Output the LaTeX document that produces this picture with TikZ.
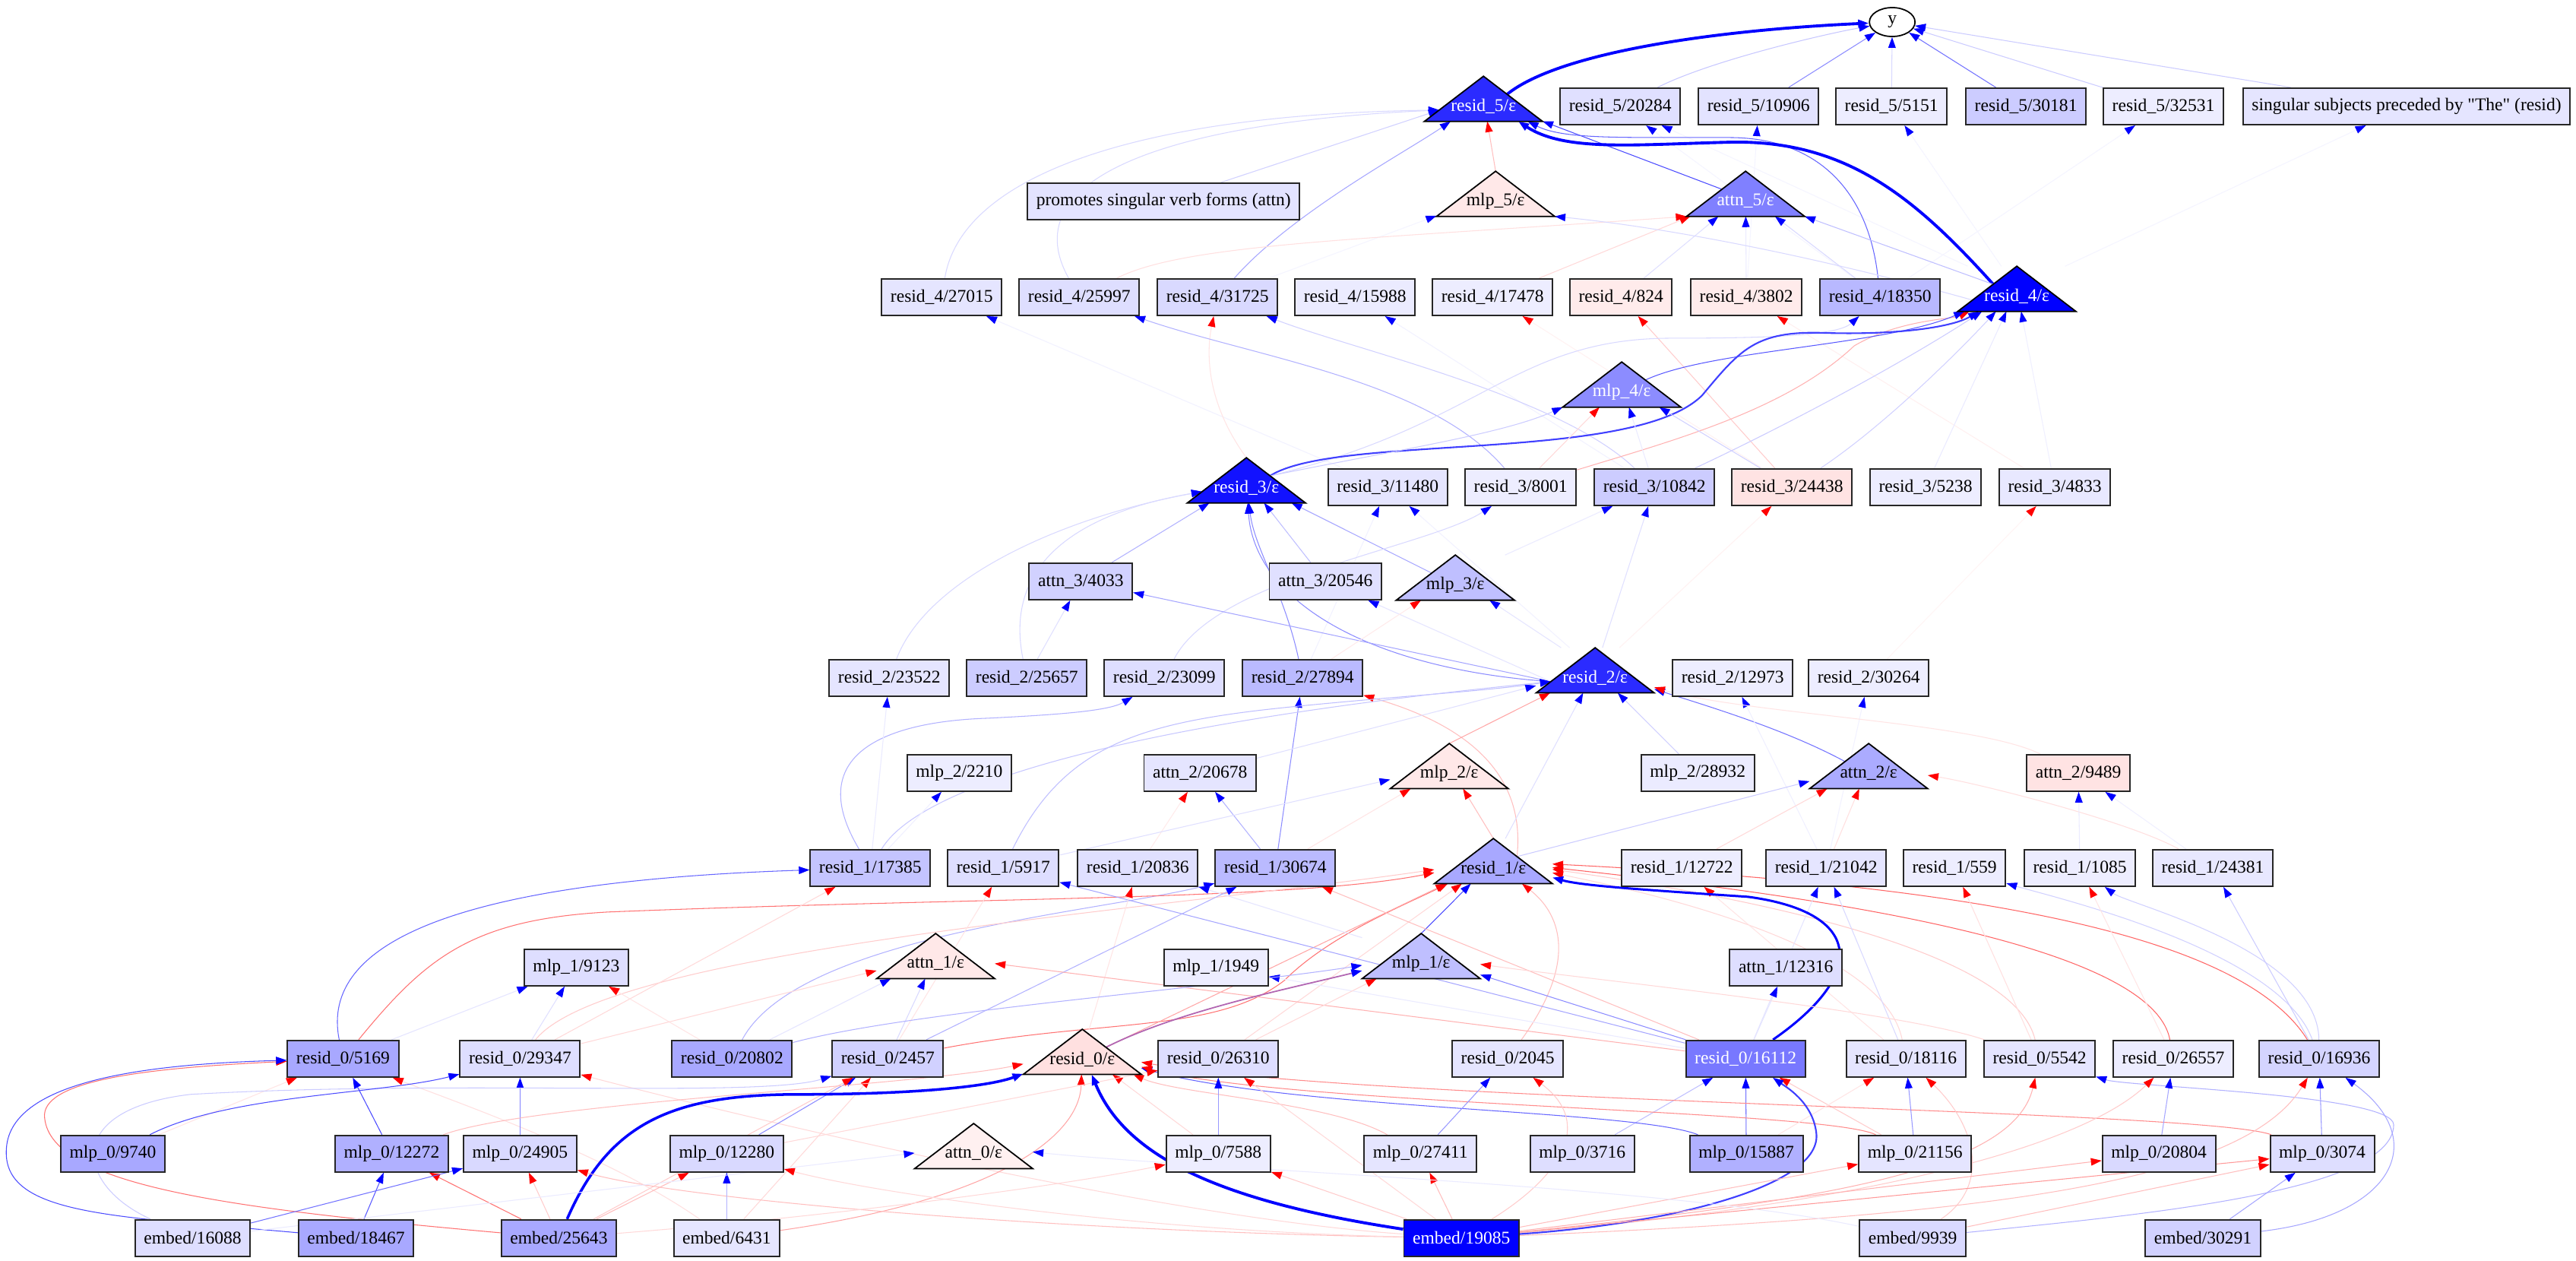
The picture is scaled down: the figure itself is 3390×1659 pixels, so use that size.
\documentclass[tikz,border=0pt]{standalone}
\usepackage{fontspec}
\setmainfont{Liberation Serif}
\usetikzlibrary{arrows.meta,shapes.geometric,calc}
\pgfdeclarelayer{bglayer}
\pgfdeclarelayer{edgelayer}
\pgfsetlayers{bglayer,edgelayer,main}
\tikzset{
  gbox/.style={draw=black!85, line width=0.55pt, rectangle, minimum height=0.48cm, inner xsep=3.3pt, inner ysep=0pt, font=\fontsize{6.7}{8}\selectfont},
  tribox/.style={rectangle, minimum width=1.54cm, minimum height=0.58cm, inner sep=0pt},
  trilabel/.style={inner sep=0pt, font=\fontsize{6.7}{8}\selectfont},
  eb/.style={draw=blue!#1, line width=0.3pt, -{Triangle[length=4pt,width=2.8pt,color=blue]}},
  er/.style={draw=red!#1, line width=0.3pt, -{Triangle[length=4pt,width=2.8pt,color=red]}},
  thickline/.style={line width=1.1pt},
  medline/.style={line width=0.6pt},
}
\newcommand{\mytri}[6]{%
  \node[tribox] (#1) at (#2,#3) {};
  \filldraw[fill=#4, draw=black, line width=0.5pt] (#1.south west) -- (#1.north) -- (#1.south east) -- cycle;
  \node[trilabel, text=#5] (#1-t) at ([yshift=0.2cm]#1.south) {#6};
  \coordinate (#1-l) at ($(#1.south west)!0.25!(#1.north)$);
  \coordinate (#1-r) at ($(#1.south east)!0.25!(#1.north)$);
  \coordinate (#1-al) at ($(#1.south west)!0.6!(#1.north)$);
  \coordinate (#1-ar) at ($(#1.south east)!0.6!(#1.north)$);
  \coordinate (#1-top) at (#1.north);
}
\begin{document}
\begin{tikzpicture}[x=0.01cm, y=-0.01cm]
\begin{pgfonlayer}{bglayer}
\path[use as bounding box, fill=white] (0,0) rectangle (3390,1659);
\end{pgfonlayer}

% ---------- nodes ----------
\node[draw=black, ellipse, minimum width=0.6cm, minimum height=0.38cm, inner sep=0pt, line width=0.5pt, fill=white, font=\fontsize{6.7}{8}\selectfont] (Y) at (2490,29) {y};

\mytri{R5e}{1952}{130}{blue!83}{white}{resid\_5/ε}
\node[gbox,fill=blue!12] (R5n20284) at (2132,140) {resid\_5/20284};
\node[gbox,fill=blue!11] (R5n10906) at (2314,140) {resid\_5/10906};
\node[gbox,fill=blue!7] (R5n5151) at (2489,140) {resid\_5/5151};
\node[gbox,fill=blue!20] (R5n30181) at (2666,140) {resid\_5/30181};
\node[gbox,fill=blue!7] (R5n32531) at (2847,140) {resid\_5/32531};
\node[gbox,fill=blue!10] (Sing) at (3167,140) {singular subjects preceded by \textquotedbl The\textquotedbl{} (resid)};

\node[gbox,fill=blue!11] (Prom) at (1531,265) {promotes singular verb forms (attn)};
\mytri{M5e}{1968}{255}{red!9}{black}{mlp\_5/ε}
\mytri{A5e}{2297}{255}{blue!50}{white}{attn\_5/ε}

\node[gbox,fill=blue!10] (R4n27015) at (1239,391) {resid\_4/27015};
\node[gbox,fill=blue!13] (R4n25997) at (1420,391) {resid\_4/25997};
\node[gbox,fill=blue!15] (R4n31725) at (1602,391) {resid\_4/31725};
\node[gbox,fill=blue!8] (R4n15988) at (1783,391) {resid\_4/15988};
\node[gbox,fill=blue!7] (R4n17478) at (1964,391) {resid\_4/17478};
\node[gbox,fill=red!8] (R4n824) at (2133,391) {resid\_4/824};
\node[gbox,fill=red!8] (R4n3802) at (2298,391) {resid\_4/3802};
\node[gbox,fill=blue!28] (R4n18350) at (2474,391) {resid\_4/18350};
\mytri{R4e}{2654}{380}{blue}{white}{resid\_4/ε}

\mytri{M4e}{2134}{506}{blue!45}{white}{mlp\_4/ε}

\mytri{R3e}{1640}{632}{blue!93}{white}{resid\_3/ε}
\node[gbox,fill=blue!10] (R3n11480) at (1826,641) {resid\_3/11480};
\node[gbox,fill=blue!7] (R3n8001) at (2001,641) {resid\_3/8001};
\node[gbox,fill=blue!20] (R3n10842) at (2177,641) {resid\_3/10842};
\node[gbox,fill=red!11] (R3n24438) at (2358,641) {resid\_3/24438};
\node[gbox,fill=blue!7] (R3n5238) at (2534,641) {resid\_3/5238};
\node[gbox,fill=blue!9] (R3n4833) at (2704,641) {resid\_3/4833};

\node[gbox,fill=blue!18] (A3n4033) at (1422,765) {attn\_3/4033};
\node[gbox,fill=blue!12] (A3n20546) at (1744,765) {attn\_3/20546};
\mytri{M3e}{1915}{760}{blue!25}{black}{mlp\_3/ε}

\node[gbox,fill=blue!10] (R2n23522) at (1170,892) {resid\_2/23522};
\node[gbox,fill=blue!20] (R2n25657) at (1351,892) {resid\_2/25657};
\node[gbox,fill=blue!13] (R2n23099) at (1532,892) {resid\_2/23099};
\node[gbox,fill=blue!27] (R2n27894) at (1714,892) {resid\_2/27894};
\mytri{R2e}{2099}{882}{blue!83}{white}{resid\_2/ε}
\node[gbox,fill=blue!7] (R2n12973) at (2280,892) {resid\_2/12973};
\node[gbox,fill=blue!7] (R2n30264) at (2459,892) {resid\_2/30264};

\node[gbox,fill=blue!7] (M2n2210) at (1262,1017) {mlp\_2/2210};
\node[gbox,fill=blue!10] (A2n20678) at (1579,1017) {attn\_2/20678};
\mytri{M2e}{1907}{1008}{red!9}{black}{mlp\_2/ε}
\node[gbox,fill=blue!8] (M2n28932) at (2234,1017) {mlp\_2/28932};
\mytri{A2e}{2459}{1008}{blue!33}{black}{attn\_2/ε}
\node[gbox,fill=red!11] (A2n9489) at (2735,1017) {attn\_2/9489};

\node[gbox,fill=blue!23] (R1n17385) at (1145,1142) {resid\_1/17385};
\node[gbox,fill=blue!13] (R1n5917) at (1320,1142) {resid\_1/5917};
\node[gbox,fill=blue!12] (R1n20836) at (1497,1142) {resid\_1/20836};
\node[gbox,fill=blue!27] (R1n30674) at (1678,1142) {resid\_1/30674};
\mytri{R1e}{1965}{1133}{blue!34}{black}{resid\_1/ε}
\node[gbox,fill=blue!7] (R1n12722) at (2213,1142) {resid\_1/12722};
\node[gbox,fill=blue!10] (R1n21042) at (2403,1142) {resid\_1/21042};
\node[gbox,fill=blue!7] (R1n559) at (2572,1142) {resid\_1/559};
\node[gbox,fill=blue!7] (R1n1085) at (2737,1142) {resid\_1/1085};
\node[gbox,fill=blue!9] (R1n24381) at (2912,1142) {resid\_1/24381};

\node[gbox,fill=blue!13] (M1n9123) at (758,1273) {mlp\_1/9123};
\mytri{A1e}{1231}{1258}{red!9}{black}{attn\_1/ε}
\node[gbox,fill=blue!7] (M1n1949) at (1600,1273) {mlp\_1/1949};
\mytri{M1e}{1870}{1258}{blue!25}{black}{mlp\_1/ε}
\node[gbox,fill=blue!13] (A1n12316) at (2350,1273) {attn\_1/12316};

\node[gbox,fill=blue!34] (R0n5169) at (451,1393) {resid\_0/5169};
\node[gbox,fill=blue!13] (R0n29347) at (684,1393) {resid\_0/29347};
\node[gbox,fill=blue!34] (R0n20802) at (963,1393) {resid\_0/20802};
\node[gbox,fill=blue!18] (R0n2457) at (1168,1393) {resid\_0/2457};
\mytri{R0e}{1424}{1384}{red!12}{black}{resid\_0/ε}
\node[gbox,fill=blue!13] (R0n26310) at (1603,1393) {resid\_0/26310};
\node[gbox,fill=blue!10] (R0n2045) at (1984,1393) {resid\_0/2045};
\node[gbox,fill=blue!53,text=white] (R0n16112) at (2297,1393) {resid\_0/16112};
\node[gbox,fill=blue!10] (R0n18116) at (2508,1393) {resid\_0/18116};
\node[gbox,fill=blue!10] (R0n5542) at (2684,1393) {resid\_0/5542};
\node[gbox,fill=blue!7] (R0n26557) at (2860,1393) {resid\_0/26557};
\node[gbox,fill=blue!17] (R0n16936) at (3052,1393) {resid\_0/16936};

\node[gbox,fill=blue!34] (M0n9740) at (148,1518) {mlp\_0/9740};
\node[gbox,fill=blue!31] (M0n12272) at (515,1518) {mlp\_0/12272};
\node[gbox,fill=blue!15] (M0n24905) at (684,1518) {mlp\_0/24905};
\node[gbox,fill=blue!15] (M0n12280) at (956,1518) {mlp\_0/12280};
\mytri{A0e}{1281}{1508}{red!6}{black}{attn\_0/ε}
\node[gbox,fill=blue!7] (M0n7588) at (1603,1518) {mlp\_0/7588};
\node[gbox,fill=blue!10] (M0n27411) at (1869,1518) {mlp\_0/27411};
\node[gbox,fill=blue!13] (M0n3716) at (2082,1518) {mlp\_0/3716};
\node[gbox,fill=blue!31] (M0n15887) at (2298,1518) {mlp\_0/15887};
\node[gbox,fill=blue!10] (M0n21156) at (2520,1518) {mlp\_0/21156};
\node[gbox,fill=blue!15] (M0n20804) at (2841,1518) {mlp\_0/20804};
\node[gbox,fill=blue!13] (M0n3074) at (3056,1518) {mlp\_0/3074};

\node[gbox,fill=blue!13] (E16088) at (253,1629) {embed/16088};
\node[gbox,fill=blue!34] (E18467) at (468,1629) {embed/18467};
\node[gbox,fill=blue!34] (E25643) at (735,1629) {embed/25643};
\node[gbox,fill=blue!10] (E6431) at (956,1629) {embed/6431};
\node[gbox,fill=blue,text=white] (E19085) at (1923,1629) {embed/19085};
\node[gbox,fill=blue!15] (E9939) at (2517,1629) {embed/9939};
\node[gbox,fill=blue!18] (E30291) at (2899,1629) {embed/30291};

% ---------- edges ----------
\begin{pgfonlayer}{edgelayer}
\draw[eb=4] (R4n18350) -- (R5n20284);
\draw[eb=4] (R4e) -- (R5n20284);
\draw[eb=4] (R4n3802) -- (R5n10906);
\draw[eb=4] (R4e) -- (R5n5151);
\draw[eb=4] (R4n18350) -- (R5n32531);
\draw[eb=4] (R4e) -- (Sing);
\draw[eb=4] (R4n31725) -- (M5e);
\draw[eb=5] (R3n11480) -- (R4n27015);
\draw[eb=5] (R3n10842) -- (R4n15988);
\draw[er=5] (R3n24438) -- (R4n17478);
\draw[er=6] (R3n4833) -- (R4n3802);
\draw[eb=5] (R2n27894) -- (R3n11480);
\draw[eb=5] (R2e) -- (R3n11480);
\draw[er=5] (R2e) -- (R3n24438);
\draw[er=4] (R2n30264) -- (R3n4833);

\draw[eb=22] (R5n20284) .. controls (2250,80) and (2400,45) .. (Y);
\draw[eb=45] (R5n10906) -- (Y);
\draw[eb=15] (R5n5151) -- (Y);
\draw[eb=55] (R5n30181) -- (Y);
\draw[eb=20] (R5n32531) -- (Y);
\draw[eb=20] (Sing) -- (Y);
\draw[eb=100, thickline] (R5e-ar) .. controls (2050,70) and (2250,40) .. (Y);

\draw[eb=15] (R4n27015) .. controls (1265,230) and (1500,150) .. (R5e-l);
\draw[eb=15] (R4n25997) .. controls (1330,230) and (1550,160) .. (R5e-l);
\draw[eb=18] (Prom) -- (R5e-l);
\draw[eb=35] (R4n31725) .. controls (1700,280) and (1850,200) .. (R5e);
\draw[er=25] (M5e-top) -- (R5e);
\draw[eb=70] (A5e-al) -- (R5e);
\draw[eb=60] (R4n18350) .. controls (2460,260) and (2400,183) .. (2280,181) .. controls (2150,180) and (2060,185) .. (R5e);
\draw[eb=100, thickline] (R4e-al) .. controls (2520,260) and (2430,185) .. (2280,187) .. controls (2150,190) and (2060,200) .. (R5e);

\draw[er=12] (R4n25997) .. controls (1560,320) and (1800,315) .. (A5e.south west);
\draw[er=15] (R4n17478) -- (A5e);
\draw[eb=12] (R4n824) -- (A5e);
\draw[eb=8] (R4n3802) -- (A5e);
\draw[eb=15] (R4n18350) -- (A5e);
\draw[eb=25] (R4e-al) -- (A5e.south east);
\draw[eb=15] (R4e-l) .. controls (2400,340) and (2200,300) .. (M5e.south east);

\draw[er=10] (R3e-top) .. controls (1580,520) and (1590,450) .. (R4n31725);
\draw[eb=30] (R3n8001) .. controls (1880,500) and (1650,470) .. (R4n25997);
\draw[eb=18] (R3n10842) .. controls (2050,520) and (1780,460) .. (R4n31725);
\draw[er=20] (R3n24438) -- (R4n824);
\draw[eb=15] (R3e-ar) .. controls (1950,560) and (1990,445) .. (2200,445) .. controls (2350,445) and (2420,440) .. (R4n18350);
\draw[er=30] (R3n8001) .. controls (2200,580) and (2350,540) .. (2440,455) .. controls (2500,420) and (2570,420) .. (R4e);
\draw[eb=20] (R3n10842) .. controls (2350,560) and (2500,480) .. (R4e);
\draw[eb=18] (R3n24438) .. controls (2480,560) and (2580,460) .. (R4e);
\draw[eb=8] (R3n5238) -- (R4e);
\draw[eb=6] (R3n4833) -- (R4e);
\draw[eb=65] (M4e-ar) .. controls (2250,460) and (2480,455) .. (R4e);
\draw[eb=75, medline] (R3e-ar) .. controls (1760,570) and (2150,610) .. (2240,520) .. controls (2290,460) and (2310,435) .. (2400,438) .. controls (2500,441) and (2570,430) .. (R4e);
\draw[eb=20] (R3e-ar) .. controls (1850,590) and (1980,570) .. (M4e.south west);
\draw[er=15] (R3n8001) -- (M4e);
\draw[eb=18] (R3n24438) -- (M4e);
\draw[eb=8] (R3n10842) -- (M4e);

\draw[eb=15] (R2n23522) .. controls (1220,760) and (1400,680) .. (R3e-l);
\draw[eb=15] (R2n25657) .. controls (1320,740) and (1420,675) .. (R3e-l);
\draw[eb=30] (A3n4033) -- (R3e);
\draw[eb=45] (R2n27894) .. controls (1690,780) and (1650,720) .. (R3e);
\draw[eb=45] (R2e-l) .. controls (1800,880) and (1650,790) .. (R3e);
\draw[eb=25] (A3n20546) -- (R3e);
\draw[eb=35] (M3e-al) -- (R3e);
\draw[eb=15] (R2n23099) .. controls (1600,760) and (1880,720) .. (R3n8001);
\draw[eb=12] (R2e) -- (R3n10842);
\draw[eb=8] (M3e) -- (R3n10842);
\draw[eb=35] (R2e-l) -- (A3n4033);
\draw[eb=12] (R2n25657) -- (A3n4033);
\draw[eb=10] (R2e-l) -- (A3n20546);
\draw[eb=10] (R2e) -- (M3e);
\draw[er=8] (R2n27894) -- (M3e);

\draw[eb=30] (R1n17385) .. controls (1060,1000) and (1150,950) .. (1300,945) .. controls (1400,940) and (1460,935) .. (R2n23099);
\draw[eb=45] (R1n30674) -- (R2n27894);
\draw[er=25] (R1e-ar) .. controls (2010,1000) and (1900,945) .. (R2n27894);
\draw[eb=25] (R1n5917) .. controls (1400,980) and (1500,950) .. (1700,930) .. controls (1850,915) and (1950,910) .. (R2e-l);
\draw[eb=22] (R1n17385) .. controls (1200,1050) and (1400,960) .. (R2e-l);
\draw[er=35] (M2e-top) -- (R2e);
\draw[eb=55] (A2e-al) .. controls (2350,960) and (2250,930) .. (R2e);
\draw[eb=18] (M2n28932) -- (R2e);
\draw[eb=12] (A2n20678) -- (R2e);
\draw[eb=12] (R1e) -- (R2e);
\draw[eb=8] (R1n17385) -- (R2n23522);
\draw[eb=6] (R1n21042) -- (R2n12973);
\draw[eb=5] (R1n21042) -- (R2n30264);
\draw[er=10] (A2n9489) .. controls (2600,950) and (2300,940) .. (R2e);

\draw[eb=6] (R1n17385) -- (M2n2210);
\draw[eb=30] (R1n30674) -- (A2n20678);
\draw[er=8] (R1n20836) -- (A2n20678);
\draw[er=25] (R1e-top) -- (M2e);
\draw[eb=12] (R1n5917) -- (M2e);
\draw[er=10] (R1n30674) -- (M2e);
\draw[er=15] (R1n12722) -- (A2e);
\draw[er=12] (R1n21042) -- (A2e);
\draw[er=12] (R1n24381) .. controls (2800,1080) and (2600,1030) .. (A2e);
\draw[eb=20] (R1e-ar) -- (A2e);
\draw[eb=8] (R1n1085) -- (A2n9489);
\draw[eb=6] (R1n24381) -- (A2n9489);

\draw[eb=60] (R0n5169) .. controls (420,1240) and (600,1160) .. (R1n17385);
\draw[eb=30] (R0n20802) .. controls (1050,1230) and (1450,1200) .. (R1n30674);
\draw[eb=70] (M1e-top) -- (R1e);
\draw[er=55] (R0n5169) .. controls (560,1260) and (620,1210) .. (800,1200) .. controls (1300,1180) and (1700,1185) .. (R1e);
\draw[er=55] (R0n2457) .. controls (1450,1340) and (1600,1360) .. (1690,1290) .. controls (1750,1230) and (1850,1190) .. (R1e);
\draw[er=20] (R0n29347) .. controls (800,1250) and (1500,1200) .. (R1e);
\draw[er=25] (R0n2045) .. controls (2080,1260) and (2050,1200) .. (R1e);
\draw[er=60] (R0n26557) .. controls (2830,1230) and (2300,1170) .. (R1e);
\draw[er=60] (R0n16936) .. controls (2950,1230) and (2600,1165) .. (R1e);
\draw[er=15] (R0n18116) .. controls (2480,1250) and (2200,1180) .. (R1e);
\draw[er=20] (R0n5542) .. controls (2650,1250) and (2300,1180) .. (R1e);
\draw[er=35] (R0e-ar) -- (R1e);
\draw[er=15] (R0n26310) -- (R1e);
\draw[er=15] (R0n29347) -- (R1n17385);
\draw[eb=35] (R0n16112) -- (R1n5917);
\draw[er=10] (R0n2457) -- (R1n5917);
\draw[eb=10] (M1e) -- (R1n20836);
\draw[er=10] (R0e) -- (R1n20836);
\draw[er=25] (R0n16112) -- (R1n30674);
\draw[eb=30] (R0n2457) -- (R1n30674);
\draw[er=10] (R0n18116) -- (R1n12722);
\draw[eb=15] (R0n18116) -- (R1n21042);
\draw[eb=10] (R0n16112) -- (R1n21042);
\draw[er=12] (R0n5542) -- (R1n559);
\draw[eb=18] (R0n16936) .. controls (3000,1250) and (2700,1180) .. (R1n559);
\draw[er=10] (R0n26557) -- (R1n1085);
\draw[eb=18] (R0n16936) .. controls (3050,1250) and (2800,1190) .. (R1n1085);
\draw[eb=20] (R0n16936) -- (R1n24381);
\draw[eb=100, line width=0.85pt] (R0n16112) .. controls (2460,1280) and (2450,1200) .. (2300,1180) .. controls (2150,1170) and (2080,1165) .. (R1e);

\draw[eb=12] (R0n29347) -- (M1n9123);
\draw[eb=10] (R0n5169) -- (M1n9123);
\draw[er=10] (R0n20802) -- (M1n9123);
\draw[er=15] (R0n29347) -- (A1e);
\draw[eb=15] (R0n2457) -- (A1e);
\draw[eb=10] (R0n20802) -- (A1e);
\draw[er=30] (R0n16112) -- (A1e);
\draw[eb=8] (R0n16112) -- (M1n1949);
\draw[er=15] (R0n26310) -- (M1e);
\draw[eb=45] (R0n16112) -- (M1e);
\draw[eb=30] (R0n20802) .. controls (1200,1330) and (1600,1300) .. (M1e);
\draw[er=15] (R0n5542) .. controls (2500,1330) and (2100,1290) .. (M1e);
\draw[eb=10] (R0n16112) -- (A1n12316);
\draw[draw=violet!60, line width=0.5pt, -{Triangle[length=4pt,width=2.8pt,color=blue]}] (R0e-ar) .. controls (1550,1330) and (1700,1300) .. (M1e);

\draw[er=10] (M0n9740) -- (R0n5169);
\draw[er=12] (E6431) .. controls (800,1520) and (600,1450) .. (R0n5169);
\draw[eb=50] (M0n24905) -- (R0n29347);
\draw[er=15] (E19085) .. controls (1500,1600) and (900,1450) .. (R0n29347);
\draw[eb=55] (M0n15887) -- (R0n16112);
\draw[eb=25] (M0n3716) -- (R0n16112);
\draw[er=20] (M0n21156) -- (R0n16112);
\draw[eb=45] (M0n12280) -- (R0n2457);
\draw[eb=20] (E16088) .. controls (100,1560) and (80,1460) .. (250,1440) .. controls (600,1420) and (1000,1445) .. (R0n2457);
\draw[er=20] (E25643) -- (R0n2457);
\draw[er=15] (E6431) -- (R0n2457);
\draw[er=15] (M0n7588) -- (R0e);
\draw[er=25] (M0n27411) .. controls (1750,1450) and (1550,1440) .. (R0e);
\draw[er=35] (E6431) .. controls (1300,1580) and (1420,1500) .. (R0e);
\draw[eb=60] (M0n15887) .. controls (2150,1460) and (1700,1460) .. (R0e);
\draw[er=45] (M0n21156) .. controls (2400,1460) and (1700,1455) .. (R0e);
\draw[er=45] (M0n3074) .. controls (2900,1460) and (1800,1450) .. (R0e);
\draw[er=25] (M0n12272) .. controls (700,1450) and (1200,1430) .. (R0e);
\draw[eb=40] (M0n7588) -- (R0n26310);
\draw[er=15] (E19085) -- (R0n26310);
\draw[er=15] (M0n12280) -- (R0n26310);
\draw[eb=40] (M0n27411) -- (R0n2045);
\draw[er=20] (E19085) .. controls (2050,1550) and (2100,1480) .. (R0n2045);
\draw[eb=40] (M0n21156) -- (R0n18116);
\draw[er=20] (E9939) .. controls (2620,1560) and (2600,1480) .. (R0n18116);
\draw[er=10] (M0n15887) -- (R0n18116);
\draw[er=30] (E19085) .. controls (2400,1580) and (2650,1540) .. (R0n5542);
\draw[eb=30] (E9939) .. controls (2800,1600) and (3150,1570) .. (3150,1480) .. controls (3150,1440) and (2800,1430) .. (R0n5542);
\draw[eb=35] (M0n20804) -- (R0n26557);
\draw[er=20] (E19085) .. controls (2500,1580) and (2750,1500) .. (R0n26557);
\draw[eb=40] (M0n3074) -- (R0n16936);
\draw[eb=35] (E30291) .. controls (3150,1600) and (3200,1500) .. (R0n16936);
\draw[er=25] (E19085) .. controls (2600,1600) and (2950,1560) .. (R0n16936);
\draw[er=55] (E25643) .. controls (300,1590) and (60,1560) .. (58,1467) .. controls (60,1420) and (200,1405) .. (R0n5169);
\draw[eb=70] (E18467) .. controls (150,1600) and (0,1600) .. (8,1510) .. controls (15,1420) and (200,1400) .. (R0n5169);
\draw[eb=70] (M0n12272) -- (R0n5169);
\draw[eb=70] (M0n9740) .. controls (300,1440) and (500,1440) .. (R0n29347);
\draw[eb=75, medline] (E19085) .. controls (2200,1610) and (2400,1560) .. (2390,1490) .. controls (2385,1450) and (2350,1430) .. (R0n16112);
\draw[eb=100, line width=1pt] (E25643) .. controls (800,1480) and (880,1440) .. (1050,1440) .. controls (1200,1440) and (1300,1430) .. (R0e);
\draw[eb=100, thickline] (E19085) .. controls (1600,1580) and (1480,1520) .. (R0e);

\draw[eb=65] (E18467) -- (M0n12272);
\draw[er=55] (E25643) -- (M0n12272);
\draw[eb=55] (E16088) -- (M0n24905);
\draw[er=20] (E25643) -- (M0n24905);
\draw[er=25] (E19085) .. controls (1400,1620) and (900,1580) .. (M0n24905);
\draw[er=25] (E25643) -- (M0n12280);
\draw[eb=30] (E6431) -- (M0n12280);
\draw[er=15] (E19085) .. controls (1500,1620) and (1150,1570) .. (M0n12280);
\draw[er=20] (E19085) -- (M0n7588);
\draw[er=15] (E25643) .. controls (1100,1600) and (1400,1560) .. (M0n7588);
\draw[er=25] (E19085) -- (M0n27411);
\draw[er=25] (E19085) -- (M0n21156);
\draw[er=30] (E19085) -- (M0n20804);
\draw[er=40] (E19085) -- (M0n3074);
\draw[er=25] (E9939) -- (M0n3074);
\draw[eb=35] (E30291) -- (M0n3074);
\draw[eb=8] (E16088) -- (A0e);
\draw[eb=8] (E9939) .. controls (2200,1560) and (1600,1540) .. (A0e);
\end{pgfonlayer}
\end{tikzpicture}
\end{document}
